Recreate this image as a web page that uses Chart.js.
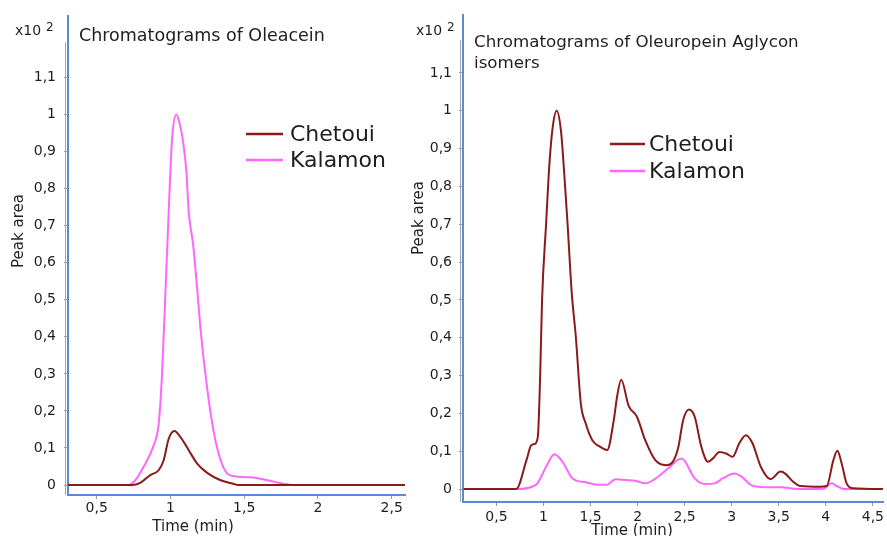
<!DOCTYPE html>
<html>
<head>
<meta charset="utf-8">
<script src="https://cdn.jsdelivr.net/npm/chart.js@4.4.1/dist/chart.umd.min.js"></script>
<style>
  html, body { margin: 0; padding: 0; background: #ffffff; }
  #wrap { position: relative; width: 887px; height: 536px; overflow: hidden; }
  canvas { position: absolute; top: 0; }
</style>
</head>
<body>
<div id="wrap">
  <canvas id="oleacein" width="410" height="536" style="left:0;width:410px;height:536px"></canvas>
  <canvas id="aglycon" width="477" height="536" style="left:410px;width:477px;height:536px"></canvas>
</div>
<script>
// ---- Oleacein chromatograms (time in min, peak area x10^2) ----
const oleaceinChetouiTime = [0.30, 0.74, 0.795, 0.863, 0.92, 0.954, 0.988, 1.027, 1.067, 1.124, 1.181, 1.249, 1.34, 1.43, 1.46, 2.60];
const oleaceinChetouiArea = [0, 0, 0.006, 0.027, 0.040, 0.067, 0.125, 0.146, 0.130, 0.094, 0.058, 0.033, 0.013, 0.003, 0, 0];

const oleaceinKalamonTime = [0.30, 0.716, 0.761, 0.817, 0.886, 0.92, 0.943, 0.965, 0.988, 1.011, 1.04, 1.063, 1.086, 1.108, 1.124, 1.154, 1.181, 1.204, 1.249, 1.295, 1.34, 1.385, 1.43, 1.544, 1.658, 1.749, 1.84, 2.60];
const oleaceinKalamonArea = [0, 0, 0.013, 0.049, 0.107, 0.165, 0.30, 0.51, 0.737, 0.934, 1.0, 0.974, 0.925, 0.845, 0.737, 0.648, 0.53, 0.42, 0.26, 0.14, 0.067, 0.031, 0.024, 0.021, 0.013, 0.005, 0, 0];

// ---- Oleuropein aglycon isomers chromatograms ----
const aglyconChetouiTime = [0.15, 0.71, 0.82, 0.87, 0.905, 0.94, 0.965, 0.985, 1.028, 1.063, 1.098, 1.14, 1.186, 1.221, 1.256, 1.30, 1.344, 1.397, 1.449, 1.519, 1.60, 1.677, 1.747, 1.782, 1.826, 1.905, 1.993, 2.081, 2.186, 2.30, 2.361, 2.432, 2.484, 2.547, 2.607, 2.677, 2.747, 2.80, 2.87, 2.94, 3.01, 3.081, 3.151, 3.221, 3.309, 3.414, 3.519, 3.572, 3.65, 3.73, 3.94, 4.01, 4.081, 4.123, 4.168, 4.221, 4.29, 4.61];
const aglyconChetouiArea = [0, 0, 0.077, 0.116, 0.119, 0.138, 0.30, 0.50, 0.701, 0.859, 0.956, 1.0, 0.947, 0.833, 0.701, 0.52, 0.402, 0.226, 0.173, 0.129, 0.112, 0.103, 0.182, 0.244, 0.289, 0.22, 0.191, 0.129, 0.077, 0.063, 0.068, 0.11, 0.182, 0.210, 0.191, 0.112, 0.072, 0.081, 0.098, 0.094, 0.085, 0.121, 0.142, 0.121, 0.059, 0.026, 0.046, 0.040, 0.02, 0.008, 0.006, 0.008, 0.077, 0.101, 0.068, 0.015, 0.002, 0];

const aglyconKalamonTime = [0.15, 0.71, 0.92, 1.028, 1.116, 1.203, 1.309, 1.449, 1.589, 1.67, 1.765, 1.87, 1.976, 2.081, 2.221, 2.326, 2.432, 2.47, 2.607, 2.712, 2.818, 2.905, 3.028, 3.098, 3.203, 3.344, 3.52, 3.69, 3.975, 4.063, 4.116, 4.19, 4.61];
const aglyconKalamonArea = [0, 0, 0.011, 0.059, 0.092, 0.072, 0.028, 0.018, 0.011, 0.011, 0.026, 0.024, 0.022, 0.015, 0.033, 0.055, 0.078, 0.080, 0.028, 0.013, 0.015, 0.028, 0.041, 0.034, 0.011, 0.005, 0.005, 0, 0.001, 0.015, 0.008, 0, 0];

// ---- tick labels ----
const areaTicks = [0, 0.1, 0.2, 0.3, 0.4, 0.5, 0.6, 0.7, 0.8, 0.9, 1, 1.1];
const oleaceinTimeTicks = [0.5, 1, 1.5, 2, 2.5];
const aglyconTimeTicks = [0.5, 1, 1.5, 2, 2.5, 3, 3.5, 4, 4.5];

const seriesNames = ['Chetoui', 'Kalamon'];
const seriesColors = ['#8b1a1a', '#ff66ff'];

const FONT = "'DejaVu Sans', sans-serif";
const TEXT = '#1e1e1e';
const FRAME = '#5b8bd6';

const commaFormat = v => String(Math.round(v * 10) / 10).replace('.', ',');
const pairs = (t, a) => t.map((x, i) => ({ x: x, y: a[i] }));

// Draws plot titles, unit, axis titles, the legend and the grey axis rule
const decorations = {
  id: 'decorations',
  afterDraw(chart, args, o) {
    const ctx = chart.ctx;
    const area = chart.chartArea;
    const ys = chart.scales.y;
    ctx.save();

    // grey value-axis rule beside the frame
    ctx.strokeStyle = '#a6a6a6';
    ctx.lineWidth = 1;
    const gx = Math.round(area.left) - 2.5;
    ctx.beginPath();
    ctx.moveTo(gx, ys.getPixelForValue(o.axisTop));
    ctx.lineTo(gx, area.bottom);
    ctx.stroke();

    ctx.fillStyle = TEXT;
    ctx.textBaseline = 'middle';

    // plot title
    ctx.textAlign = 'left';
    ctx.font = o.title.size + 'px ' + FONT;
    o.title.lines.forEach((line, i) => ctx.fillText(line, o.title.x, o.title.y + i * o.title.lineHeight));

    // multiplier
    ctx.font = '14px ' + FONT;
    ctx.fillText('x10', o.unit.x, o.unit.y);
    const w = ctx.measureText('x10').width;
    ctx.font = '12px ' + FONT;
    ctx.fillText('2', o.unit.x + w + 5, o.unit.y - 3);

    // axis titles
    ctx.font = '15px ' + FONT;
    ctx.textAlign = 'center';
    ctx.fillText(o.xTitle.text, o.xTitle.x, o.xTitle.y);
    ctx.save();
    ctx.translate(o.yTitle.x, o.yTitle.y);
    ctx.rotate(-Math.PI / 2);
    ctx.fillText(o.yTitle.text, 0, 0);
    ctx.restore();

    // legend
    ctx.textAlign = 'left';
    ctx.font = '22px ' + FONT;
    chart.data.datasets.forEach((ds, i) => {
      const ly = o.legend.y + i * o.legend.row;
      ctx.strokeStyle = ds.borderColor;
      ctx.lineWidth = 2.5;
      ctx.beginPath();
      ctx.moveTo(o.legend.x, ly);
      ctx.lineTo(o.legend.x + o.legend.len, ly);
      ctx.stroke();
      ctx.fillStyle = TEXT;
      ctx.fillText(ds.label, o.legend.x + o.legend.len + o.legend.gap, ly + 1);
    });
    ctx.restore();
  }
};

function makeChart(id, cfg) {
  return new Chart(document.getElementById(id), {
    type: 'line',
    data: {
      datasets: cfg.series.map((s, i) => ({
        label: seriesNames[i],
        data: s,
        borderColor: seriesColors[i],
        borderWidth: 2,
        pointRadius: 0,
        fill: false,
        cubicInterpolationMode: 'monotone'
      }))
    },
    options: {
      responsive: false,
      animation: false,
      devicePixelRatio: 1,
      layout: { autoPadding: false, padding: { left: 0, right: cfg.padRight, top: 14, bottom: 0 } },
      plugins: {
        legend: { display: false },
        tooltip: { enabled: false },
        decorations: cfg.deco
      },
      scales: {
        x: {
          type: 'linear',
          min: cfg.xMin, max: cfg.xMax,
          afterBuildTicks: s => { s.ticks = cfg.xTicks.map(v => ({ value: v })); },
          afterFit: s => { s.height = cfg.xHeight; },
          grid: { drawOnChartArea: false, drawTicks: true, tickLength: 4, color: '#9a9a9a' },
          border: { display: true, color: FRAME, width: 2 },
          ticks: {
            font: { family: FONT, size: 14 }, color: TEXT, padding: cfg.xPad,
            maxRotation: 0, autoSkip: false, callback: commaFormat
          }
        },
        y: {
          type: 'linear',
          min: cfg.yMin, max: cfg.yMax,
          afterBuildTicks: s => { s.ticks = areaTicks.map(v => ({ value: v })); },
          afterFit: s => { s.width = cfg.yWidth; },
          grid: { drawOnChartArea: false, drawTicks: true, tickLength: 4, color: '#9a9a9a' },
          border: { display: true, color: FRAME, width: 2 },
          ticks: {
            font: { family: FONT, size: 14 }, color: TEXT, padding: cfg.yPad,
            autoSkip: false, callback: commaFormat
          }
        }
      }
    },
    plugins: [decorations]
  });
}

makeChart('oleacein', {
  series: [pairs(oleaceinChetouiTime, oleaceinChetouiArea), pairs(oleaceinKalamonTime, oleaceinKalamonArea)],
  xMin: 0.3054, xMax: 2.590, xTicks: oleaceinTimeTicks, xHeight: 41, xPad: 1,
  yMin: -0.0268, yMax: 1.2644, yWidth: 68, yPad: 8, padRight: 5,
  deco: {
    axisTop: 1.195,
    title: { lines: ['Chromatograms of Oleacein'], x: 79, y: 36, size: 17.5, lineHeight: 20 },
    unit: { x: 15, y: 31 },
    xTitle: { text: 'Time (min)', x: 193, y: 527 },
    yTitle: { text: 'Peak area', x: 19, y: 231 },
    legend: { x: 246, y: 134, row: 26, len: 37, gap: 7 }
  }
});

makeChart('aglycon', {
  series: [pairs(aglyconChetouiTime, aglyconChetouiArea), pairs(aglyconKalamonTime, aglyconKalamonArea)],
  xMin: 0.145, xMax: 4.608, xTicks: aglyconTimeTicks, xHeight: 34, xPad: 3,
  yMin: -0.0343, yMax: 1.252, yWidth: 53, yPad: 7, padRight: 0,
  deco: {
    axisTop: 1.186,
    title: { lines: ['Chromatograms of Oleuropein Aglycon', 'isomers'], x: 64, y: 43, size: 16.7, lineHeight: 21 },
    unit: { x: 6, y: 31 },
    xTitle: { text: 'Time (min)', x: 222, y: 531 },
    yTitle: { text: 'Peak area', x: 9, y: 218 },
    legend: { x: 200, y: 144, row: 27, len: 35, gap: 4 }
  }
});
</script>
</body>
</html>
